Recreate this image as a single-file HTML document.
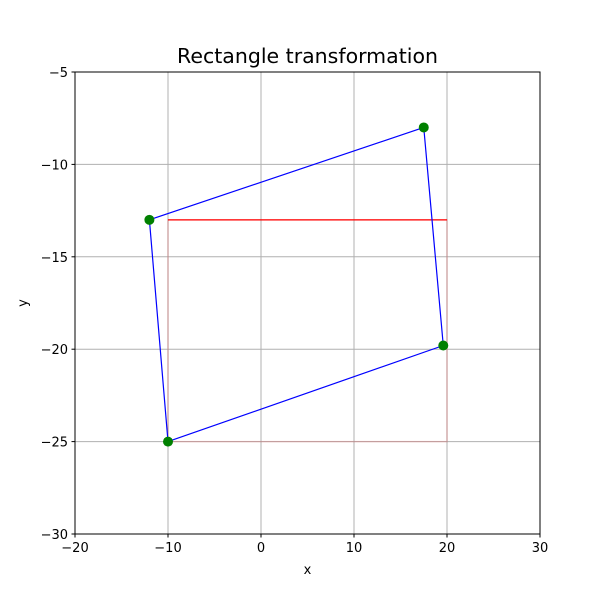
<!DOCTYPE html>
<html><head><meta charset="utf-8"><style>
body{margin:0;background:#fff}
text{font-family:"DejaVu Sans","Liberation Sans",sans-serif}
</style></head><body>
<svg id="chart" width="600" height="600" xmlns="http://www.w3.org/2000/svg">
<rect width="600" height="600" fill="#fff"/>
<g id="grid"></g>
<g id="marks"></g>
<rect x="75" y="72" width="465" height="462" fill="none" stroke="#000" stroke-width="1"/>
<g id="ticks"></g>
<text x="307.5" y="63" font-size="20.5" text-anchor="middle">Rectangle transformation</text>
<text x="307.5" y="574" font-size="13" text-anchor="middle">x</text>
<text x="27" y="303" font-size="13" text-anchor="middle" transform="rotate(-90 27 303)">y</text>
</svg>
<script>
const xTicks=[-20,-10,0,10,20,30];
const yTicks=[-5,-10,-15,-20,-25,-30];
const rectX=[-10,20,20,-10];
const rectY=[-13,-13,-25,-25];
const polyX=[-10,-12,17.5,19.6];
const polyY=[-25,-13,-8,-19.8];
const X0=75,X1=540,Y0=72,Y1=534;
const sx=v=>X0+(v+20)/50*(X1-X0);
const sy=v=>Y0+(-5-v)/25*(Y1-Y0);
const NS="http://www.w3.org/2000/svg";
function mk(tag,attrs,parent){const e=document.createElementNS(NS,tag);for(const k in attrs)e.setAttribute(k,attrs[k]);parent.appendChild(e);return e;}
const gridG=document.getElementById('grid'),ticksG=document.getElementById('ticks'),marksG=document.getElementById('marks');
xTicks.forEach(t=>{
  const g=mk('line',{x1:sx(t),x2:sx(t),y1:Y0,y2:Y1,stroke:'#b0b0b0','stroke-width':1},gridG);
  
  
  const tk=mk('line',{x1:sx(t),x2:sx(t),y1:Y1,y2:Y1+3.5,stroke:'#000'},ticksG);
  
  
  const l=mk('text',{x:sx(t),y:Y1+18,'font-size':13,'text-anchor':'middle'},ticksG);
  l.textContent=String(t).replace('-','\u2212');
  
  
});
yTicks.forEach(t=>{
  const g=mk('line',{x1:X0,x2:X1,y1:sy(t),y2:sy(t),stroke:'#b0b0b0','stroke-width':1},gridG);
  
  
  const tk=mk('line',{x1:X0-3.5,x2:X0,y1:sy(t),y2:sy(t),stroke:'#000'},ticksG);
  
  
  const l=mk('text',{x:X0-7,y:sy(t)+5,'font-size':13,'text-anchor':'end'},ticksG);
  l.textContent=String(t).replace('-','\u2212');
  
  
});
const rp=rectX.map((x,i)=>sx(x)+','+sy(rectY[i])).join(' ');
const rectEl=mk('polygon',{points:rp,fill:'none',stroke:'rgba(255,0,0,0.15)','stroke-width':1.5},marksG);


const rectTop=mk('line',{x1:sx(rectX[0]),y1:sy(rectY[0]),x2:sx(rectX[1]),y2:sy(rectY[1]),stroke:'#ff0000','stroke-width':1.2},marksG);


const pp=polyX.map((x,i)=>sx(x)+','+sy(polyY[i])).join(' ');
const polyEl=mk('polygon',{points:pp,fill:'none',stroke:'#0000ff','stroke-width':1.2},marksG);


polyX.forEach((x,i)=>{
  const c=mk('circle',{cx:sx(x),cy:sy(polyY[i]),r:5,fill:'#008000'},marksG);
  
  
});
</script>
</body></html>
